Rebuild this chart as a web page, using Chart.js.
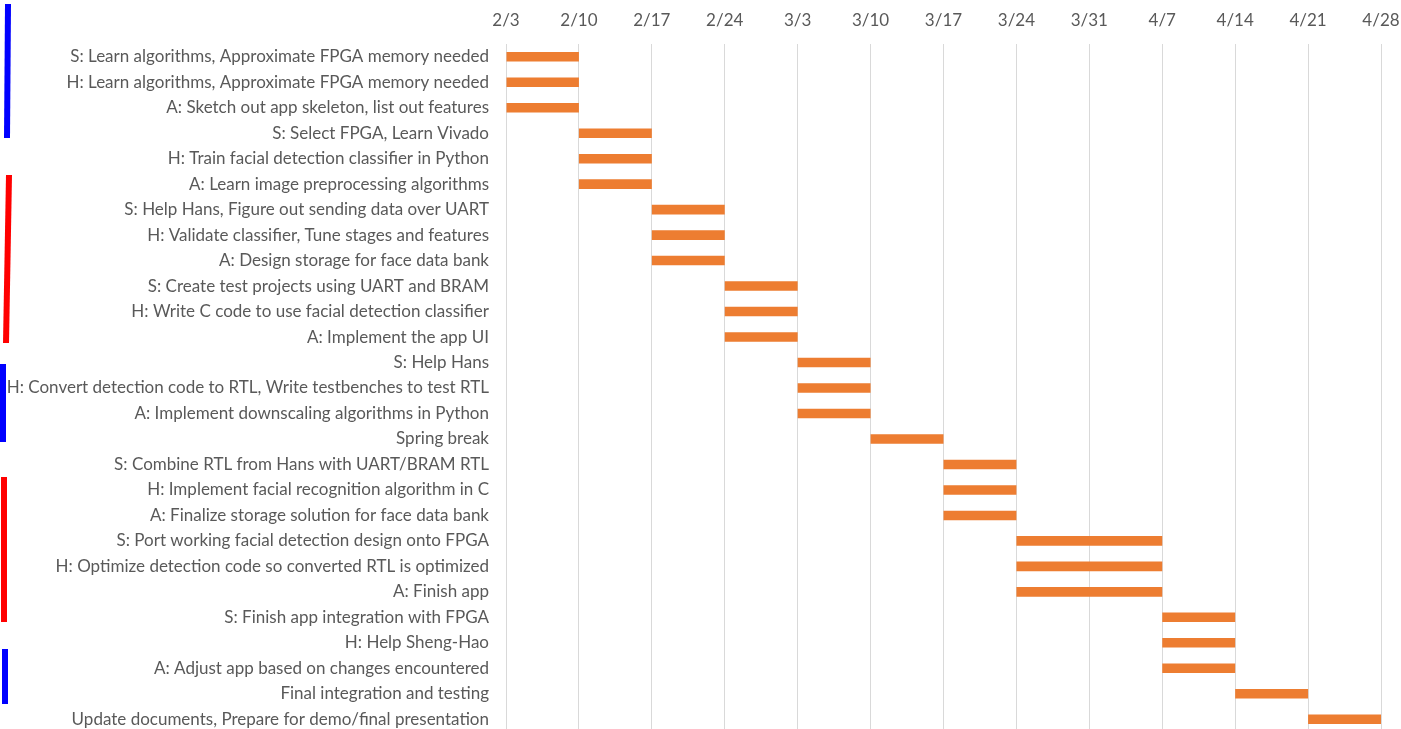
<!DOCTYPE html>
<html>
<head>
<meta charset="utf-8">
<script src="https://cdn.jsdelivr.net/npm/chart.js@4.4.1/dist/chart.umd.min.js"></script>
<style>
  html, body { margin: 0; padding: 0; background: #fff; overflow: hidden; }
  #wrap { position: relative; width: 1401px; height: 733px; }
</style>
</head>
<body>
<div id="wrap"><canvas id="c" width="1401" height="733"></canvas></div>
<script>
// Tasks (categories)
const tasks = [
  'S: Learn algorithms, Approximate FPGA memory needed',
  'H: Learn algorithms, Approximate FPGA memory needed',
  'A: Sketch out app skeleton, list out features',
  'S: Select FPGA, Learn Vivado',
  'H: Train facial detection classifier in Python',
  'A: Learn image preprocessing algorithms',
  'S: Help Hans, Figure out sending data over UART',
  'H: Validate classifier, Tune stages and features',
  'A: Design storage for face data bank',
  'S: Create test projects using UART and BRAM',
  'H: Write C code to use facial detection classifier',
  'A: Implement the app UI',
  'S: Help Hans',
  'H: Convert detection code to RTL, Write testbenches to test RTL',
  'A: Implement downscaling algorithms in Python',
  'Spring break',
  'S: Combine RTL from Hans with UART/BRAM RTL',
  'H: Implement facial recognition algorithm in C',
  'A: Finalize storage solution for face data bank',
  'S: Port working facial detection design onto FPGA',
  'H: Optimize detection code so converted RTL is optimized',
  'A: Finish app',
  'S: Finish app integration with FPGA',
  'H: Help Sheng-Hao',
  'A: Adjust app based on changes encountered',
  'Final integration and testing',
  'Update documents, Prepare for demo/final presentation'
];
// Start / end, in days after 2/3
const startDay = [0,0,0, 7,7,7, 14,14,14, 21,21,21, 28,28,28, 35, 42,42,42, 49,49,49, 63,63,63, 70, 77];
const endDay   = [7,7,7, 14,14,14, 21,21,21, 28,28,28, 35,35,35, 42, 49,49,49, 63,63,63, 70,70,70, 77, 84];
// Week tick labels (every 7 days from 2/3)
const weekLabels = ['2/3','2/10','2/17','2/24','3/3','3/10','3/17','3/24','3/31','4/7','4/14','4/21','4/28'];

// Hand-drawn bracket marks on the left edge
const sideMarks = [
  { color: '#0000FF', x1: 8, y1: 4,   x2: 7, y2: 138 },
  { color: '#FF0000', x1: 9, y1: 175, x2: 6, y2: 343 },
  { color: '#0000FF', x1: 3, y1: 364, x2: 3, y2: 442 },
  { color: '#FF0000', x1: 4, y1: 477, x2: 4, y2: 622 },
  { color: '#0000FF', x1: 5, y1: 649, x2: 5, y2: 704 }
];

const sideMarkPlugin = {
  id: 'sideMarks',
  afterDraw(chart) {
    const ctx = chart.ctx;
    ctx.save();
    ctx.lineWidth = 6;
    ctx.lineCap = 'butt';
    sideMarks.forEach(m => {
      ctx.strokeStyle = m.color;
      ctx.beginPath();
      ctx.moveTo(m.x1, m.y1);
      ctx.lineTo(m.x2, m.y2);
      ctx.stroke();
    });
    ctx.restore();
  }
};

const FONT = "Lato, 'Open Sans', sans-serif";

new Chart(document.getElementById('c'), {
  type: 'bar',
  data: {
    labels: tasks,
    datasets: [{
      data: tasks.map((t, i) => [startDay[i], endDay[i]]),
      backgroundColor: '#ED7D31',
      borderWidth: 0,
      borderSkipped: false,
      barPercentage: 0.75,
      categoryPercentage: 0.5
    }]
  },
  options: {
    indexAxis: 'y',
    responsive: false,
    animation: false,
    layout: { padding: 0 },
    plugins: { legend: { display: false }, tooltip: { enabled: false } },
    scales: {
      x: {
        position: 'top',
        min: 0,
        max: (weekLabels.length - 1) * 7,
        border: { display: false },
        grid: { color: '#D9D9D9', lineWidth: 1, drawTicks: false },
        ticks: {
          stepSize: 7,
          padding: 13,
          color: '#595959',
          font: { family: FONT, size: 17 },
          maxRotation: 0,
          callback: (v) => weekLabels[Math.round(v / 7)]
        },
        afterFit: (s) => { s.height = 44; s.paddingLeft = 0; s.paddingRight = 20; }
      },
      y: {
        border: { display: false },
        grid: { display: false, drawTicks: false },
        ticks: {
          color: '#595959',
          padding: 17,
          autoSkip: false,
          font: { family: FONT, size: 17 }
        },
        afterFit: (s) => { s.width = 506; s.paddingTop = 0; s.paddingBottom = 1; }
      }
    }
  },
  plugins: [sideMarkPlugin]
});
</script>
</body>
</html>
